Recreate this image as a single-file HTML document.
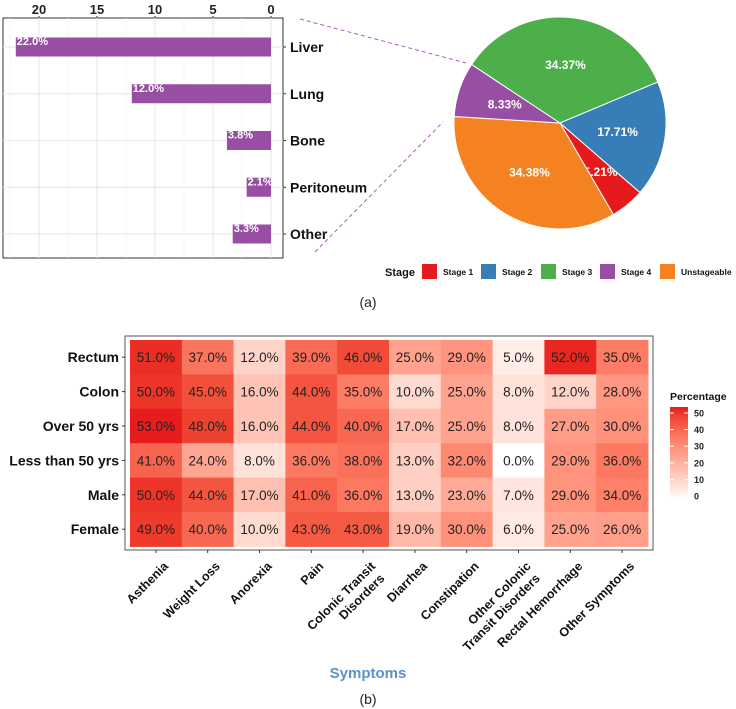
<!DOCTYPE html>
<html><head><meta charset="utf-8"><style>
body{margin:0;background:#fff;}
svg{display:block;font-family:"Liberation Sans",Arial,sans-serif;}
</style></head><body>
<svg id="chart" width="736" height="709" viewBox="0 0 736 709"></svg>
<script>
const barCats=["Liver","Lung","Bone","Peritoneum","Other"];
const barVals=[22.0,12.0,3.8,2.1,3.3];
const barTicks=[20,15,10,5,0];
const pieCats=["Stage 1","Unstageable","Stage 4","Stage 3","Stage 2"];
const pieVals=[5.21,34.38,8.33,34.37,17.71];
const pieColors={"Stage 1":"#e41a1c","Stage 2":"#377eb8","Stage 3":"#4daf4a","Stage 4":"#984ea3","Unstageable":"#f58220"};
const legendCats=["Stage 1","Stage 2","Stage 3","Stage 4","Unstageable"];
const rows=["Rectum","Colon","Over 50 yrs","Less than 50 yrs","Male","Female"];
const cols=["Asthenia","Weight Loss","Anorexia","Pain","Colonic Transit|Disorders","Diarrhea","Constipation","Other Colonic|Transit Disorders","Rectal Hemorrhage","Other Symptoms"];
const heat=[
[51,37,12,39,46,25,29,5,52,35],
[50,45,16,44,35,10,25,8,12,28],
[53,48,16,44,40,17,25,8,27,30],
[41,24,8,36,38,13,32,0,29,36],
[50,44,17,41,36,13,23,7,29,34],
[49,40,10,43,43,19,30,6,25,26]];
const scaleTicks=[0,10,20,30,40,50];

const NS="http://www.w3.org/2000/svg";
const svg=document.getElementById('chart');
function mk(tag,at,parent){const e=document.createElementNS(NS,tag);for(const k in at)e.setAttribute(k,at[k]);(parent||svg).appendChild(e);return e;}
function tx(x,y,s,at,parent){const e=mk('text',Object.assign({x:x,y:y},at),parent);e.textContent=s;return e;}

// ---- bar chart ----
const bx0=271, bunit=(271-39)/20;
const xb=v=>bx0-v*bunit;
const yb=i=>47+i*46.75;
const bp=mk('rect',{x:3,y:18,width:280,height:240,fill:'#fff',stroke:'#333','stroke-width':1});

for(let v=0;v<=22.5;v+=2.5){const g=mk('line',{x1:xb(v),x2:xb(v),y1:18,y2:258,stroke:v%5===0?'#e6e6e6':'#f2f2f2','stroke-width':v%5===0?1:0.6});}
barCats.forEach((c,i)=>{const g=mk('line',{x1:3,x2:283,y1:yb(i),y2:yb(i),stroke:'#e6e6e6'});});
barTicks.forEach(t=>{const e=tx(xb(t),14,String(t),{'text-anchor':'middle','font-size':13,'font-weight':'bold',fill:'#222'});
mk('line',{x1:xb(t),x2:xb(t),y1:16,y2:18,stroke:'#333'});});
barCats.forEach((c,i)=>{
 const r=mk('rect',{x:xb(barVals[i]),y:yb(i)-9.5,width:xb(0)-xb(barVals[i]),height:19,fill:'#984ea3'});
 
 const l=tx(xb(barVals[i])+1,yb(i)-2,barVals[i].toFixed(1)+'%',{'font-size':11,'font-weight':'bold',fill:'#fff'});
 
 mk('line',{x1:283,x2:286,y1:yb(i),y2:yb(i),stroke:'#333'});
 const t=tx(290,yb(i)+5,c,{'font-size':14,'font-weight':'bold',fill:'#111'});
 
});
let d1=mk('line',{x1:300,y1:19,x2:466,y2:63,stroke:'#b05cc0','stroke-dasharray':'4,3','stroke-width':1});

let d2=mk('line',{x1:315,y1:252,x2:443,y2:122,stroke:'#b05cc0','stroke-dasharray':'4,3','stroke-width':1});


// ---- pie ----
const cx=560,cy=123,R=106;
const total=pieVals.reduce((a,b)=>a+b,0);
let ang=41*Math.PI/180;
pieCats.forEach((c,i)=>{
 const a0=ang,a1=ang+pieVals[i]/total*2*Math.PI;ang=a1;
 const large=(a1-a0)>Math.PI?1:0;
 const p=mk('path',{d:`M${cx},${cy} L${cx+R*Math.cos(a0)},${cy+R*Math.sin(a0)} A${R},${R} 0 ${large} 1 ${cx+R*Math.cos(a1)},${cy+R*Math.sin(a1)} Z`,fill:pieColors[c],stroke:'#fff','stroke-width':1});
 
 const am=(a0+a1)/2, rr=c==='Stage 1'?0.6:0.55;
 const l=tx(cx+R*rr*Math.cos(am),cy+R*rr*Math.sin(am)+4,pieVals[i].toFixed(2)+'%',{'text-anchor':'middle','font-size':12,'font-weight':'bold',fill:'#fff'});
 
});
const lt=tx(385,276,'Stage',{'font-size':11,'font-weight':'bold',fill:'#111'});

const lx=[422,481,541,600,660];
legendCats.forEach((c,i)=>{
 const s=mk('rect',{x:lx[i],y:264,width:15,height:15,fill:pieColors[c]});
 
 const t=tx(lx[i]+21,275,c,{'font-size':8.5,'font-weight':'bold',fill:'#111'});
 
});
const ca=tx(368,307,'(a)',{'text-anchor':'middle','font-size':14,fill:'#222'});


// ---- colour scale (Lab interpolation) ----
function s2l(c){c/=255;return c<=0.04045?c/12.92:Math.pow((c+0.055)/1.055,2.4);}
function l2s(c){c=c<=0.0031308?12.92*c:1.055*Math.pow(c,1/2.4)-0.055;return Math.round(Math.max(0,Math.min(1,c))*255);}
function toLab(rgb){const [r,g,b]=rgb.map(s2l);let X=(0.4124*r+0.3576*g+0.1805*b)/0.95047,Y=0.2126*r+0.7152*g+0.0722*b,Z=(0.0193*r+0.1192*g+0.9505*b)/1.08883;
 const f=t=>t>0.008856?Math.cbrt(t):7.787*t+16/116;const fx=f(X),fy=f(Y),fz=f(Z);return [116*fy-16,500*(fx-fy),200*(fy-fz)];}
function fromLab(l){const fy=(l[0]+16)/116,fx=fy+l[1]/500,fz=fy-l[2]/200;const fi=t=>t*t*t>0.008856?t*t*t:(t-16/116)/7.787;
 const X=fi(fx)*0.95047,Y=fi(fy),Z=fi(fz)*1.08883;
 return [3.2406*X-1.5372*Y-0.4986*Z,-0.9689*X+1.8758*Y+0.0415*Z,0.0557*X-0.2040*Y+1.0570*Z].map(l2s);}
const labLo=toLab([255,255,255]),labHi=toLab([232,28,28]);
const vmax=53;
function col(v){const t=Math.max(0,Math.min(1,v/vmax));const l=labLo.map((x,k)=>x+(labHi[k]-x)*t);return 'rgb('+fromLab(l).join(',')+')';}

// ---- heatmap ----
const hx0=130,hw=51.8,hy0=340,hh=34.4;
const hp=mk('rect',{x:125,y:336,width:528,height:214,fill:'#fff',stroke:'#555','stroke-width':1});

rows.forEach((r,i)=>{
 cols.forEach((c,j)=>{
  const v=heat[i][j];
  const cell=mk('rect',{x:hx0+j*hw,y:hy0+i*hh,width:hw+0.5,height:hh+0.5,fill:col(v)});
  
  const t=tx(hx0+j*hw+hw/2,hy0+i*hh+hh/2+5,v.toFixed(1)+'%',{'text-anchor':'middle','font-size':13.5,fill:'#222'});
  
 });
 mk('line',{x1:122,x2:125,y1:hy0+i*hh+hh/2,y2:hy0+i*hh+hh/2,stroke:'#333'});
 const t=tx(119,hy0+i*hh+hh/2+5,r,{'text-anchor':'end','font-size':14,'font-weight':'bold',fill:'#111'});
 
});
cols.forEach((c,j)=>{
 const x=hx0+j*hw+hw/2;
 mk('line',{x1:x,x2:x,y1:550,y2:553,stroke:'#333'});
 const parts=c.split('|');
 const ax=x+13, ay=567;
 const g=mk('text',{transform:`translate(${ax},${ay}) rotate(-45)`,'text-anchor':'end','font-size':12.5,'font-weight':'bold',fill:'#111'});
 
 parts.forEach((p,k)=>{const ts=mk('tspan',{x:k===1?-2:0,y:k*15},g);ts.textContent=p;});
});
const xt=tx(368,678,'Symptoms',{'text-anchor':'middle','font-size':15,'font-weight':'bold',fill:'#5b92c8'});

const cb=tx(368,704,'(b)',{'text-anchor':'middle','font-size':14,fill:'#222'});

const defs=mk('defs',{});
const lg=mk('linearGradient',{id:'g1',x1:0,y1:1,x2:0,y2:0},defs);
for(let k=0;k<=10;k++)mk('stop',{offset:k/10,'stop-color':col(vmax*k/10)},lg);
const pt=tx(670,400,'Percentage',{'font-size':10.5,'font-weight':'bold',fill:'#111'});

const by0=500,by1=407;
const sb=mk('rect',{x:670,y:by1,width:18,height:by0-by1,fill:'url(#g1)'});

const ys=v=>496-v/50*(496-413);
scaleTicks.forEach(v=>{
 mk('line',{x1:670,x2:674,y1:ys(v),y2:ys(v),stroke:'#fff'});mk('line',{x1:684,x2:688,y1:ys(v),y2:ys(v),stroke:'#fff'});
 const t=tx(694,ys(v)+3.5,String(v),{'font-size':9,'font-weight':'bold',fill:'#222'});
 
});
</script>
</body></html>
